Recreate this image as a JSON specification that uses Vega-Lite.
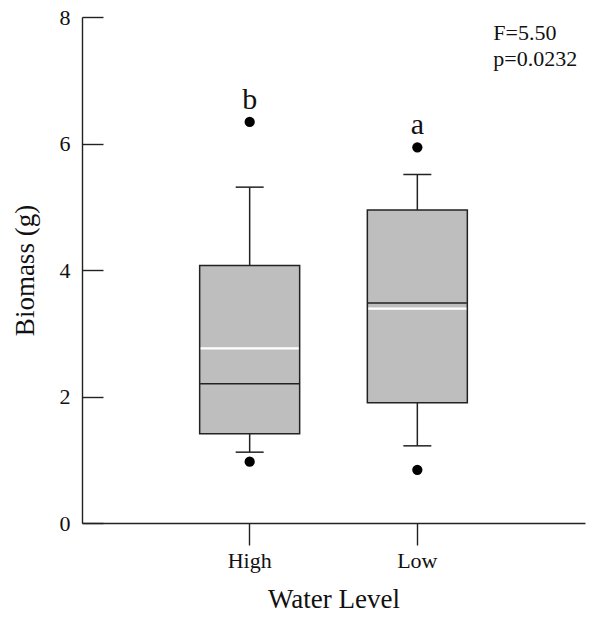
{
  "$schema": "https://vega.github.io/schema/vega-lite/v6.json",
  "width": 503,
  "height": 506,
  "autosize": {"type": "none"},
  "padding": {"left": 82, "top": 17, "right": 4, "bottom": 94},
  "background": "white",
  "config": {
    "view": {"stroke": null},
    "font": "Liberation Serif, Times New Roman, serif",
    "axis": {"grid": false, "labelFont": "Liberation Serif, Times New Roman, serif", "titleFont": "Liberation Serif, Times New Roman, serif"},
    "text": {"font": "Liberation Serif, Times New Roman, serif"}
  },
  "datasets": {
    "summary": [
      {"water": "High", "lower": 1.12, "q1": 1.41, "median": 2.20, "mean": 2.76, "q3": 4.07, "upper": 5.31, "max": 6.34, "letter": "b"},
      {"water": "Low", "lower": 1.22, "q1": 1.90, "median": 3.48, "mean": 3.39, "q3": 4.95, "upper": 5.51, "max": 5.94, "letter": "a"}
    ],
    "outliers": [
      {"water": "High", "biomass": 6.34},
      {"water": "High", "biomass": 0.97},
      {"water": "Low", "biomass": 5.94},
      {"water": "Low", "biomass": 0.84}
    ]
  },
  "encoding": {
    "x": {
      "field": "water",
      "type": "nominal",
      "scale": {"domain": ["High", "Low"], "paddingInner": 0, "paddingOuter": 0.5},
      "axis": {
        "title": "Water Level",
        "labelAngle": 0,
        "tickSize": 22,
        "labelPadding": 5,
        "labelFontSize": 22,
        "labelFont": "Liberation Serif, Times New Roman, serif",
        "titleFont": "Liberation Serif, Times New Roman, serif",
        "titleFontSize": 27,
        "titleFontWeight": "normal",
        "titlePadding": 15,
        "domainColor": "#222",
        "tickColor": "#222",
        "labelColor": "#111",
        "titleColor": "#111",
        "domainWidth": 1.4,
        "tickWidth": 1.4
      }
    }
  },
  "layer": [
    {
      "data": {"name": "summary"},
      "mark": {"type": "rule", "color": "#222", "strokeWidth": 1.5},
      "encoding": {
        "y": {
          "field": "lower",
          "type": "quantitative",
          "scale": {"domain": [0, 8], "nice": false},
          "axis": {
            "title": "Biomass (g)",
            "values": [0, 2, 4, 6, 8],
            "format": "d",
            "tickSize": -21,
            "labelPadding": 33,
            "labelFontSize": 22,
            "labelFont": "Liberation Serif, Times New Roman, serif",
            "titleFont": "Liberation Serif, Times New Roman, serif",
            "titleFontSize": 27,
            "titleFontWeight": "normal",
            "titlePadding": 20,
            "domainColor": "#222",
            "tickColor": "#222",
            "labelColor": "#111",
            "titleColor": "#111",
            "domainWidth": 1.4,
            "tickWidth": 1.4
          }
        },
        "y2": {"field": "q1"}
      }
    },
    {
      "data": {"name": "summary"},
      "mark": {"type": "rule", "color": "#222", "strokeWidth": 1.5},
      "encoding": {
        "y": {"field": "q3", "type": "quantitative", "scale": {"domain": [0, 8], "nice": false}},
        "y2": {"field": "upper"}
      }
    },
    {
      "data": {"name": "summary"},
      "mark": {"type": "tick", "color": "#222", "size": 28, "thickness": 1.5, "opacity": 1},
      "encoding": {
        "y": {"field": "lower", "type": "quantitative", "scale": {"domain": [0, 8], "nice": false}}
      }
    },
    {
      "data": {"name": "summary"},
      "mark": {"type": "tick", "color": "#222", "size": 28, "thickness": 1.5, "opacity": 1},
      "encoding": {
        "y": {"field": "upper", "type": "quantitative", "scale": {"domain": [0, 8], "nice": false}}
      }
    },
    {
      "data": {"name": "summary"},
      "mark": {"type": "bar", "size": 100, "fill": "#bebebe", "stroke": "#222", "strokeWidth": 1.5},
      "encoding": {
        "y": {"field": "q1", "type": "quantitative", "scale": {"domain": [0, 8], "nice": false}},
        "y2": {"field": "q3"}
      }
    },
    {
      "data": {"name": "summary"},
      "mark": {"type": "tick", "color": "#222", "size": 99, "thickness": 1.5, "opacity": 1},
      "encoding": {
        "y": {"field": "median", "type": "quantitative", "scale": {"domain": [0, 8], "nice": false}}
      }
    },
    {
      "data": {"name": "summary"},
      "mark": {"type": "tick", "color": "#ffffff", "size": 98, "thickness": 2.2, "opacity": 1},
      "encoding": {
        "y": {"field": "mean", "type": "quantitative", "scale": {"domain": [0, 8], "nice": false}}
      }
    },
    {
      "data": {"name": "outliers"},
      "mark": {"type": "point", "filled": true, "color": "#000", "size": 105, "opacity": 1},
      "encoding": {
        "y": {"field": "biomass", "type": "quantitative", "scale": {"domain": [0, 8], "nice": false}}
      }
    },
    {
      "data": {"name": "summary"},
      "mark": {"type": "text", "font": "Liberation Serif, Times New Roman, serif", "fontSize": 30, "baseline": "alphabetic", "align": "center", "dy": -13, "color": "#111"},
      "encoding": {
        "y": {"field": "max", "type": "quantitative", "scale": {"domain": [0, 8], "nice": false}},
        "text": {"field": "letter"}
      }
    },
    {
      "data": {"values": [{}]},
      "mark": {"type": "text", "font": "Liberation Serif, Times New Roman, serif", "text": ["F=5.50", "p=0.0232"], "fontSize": 22, "lineHeight": 26, "baseline": "alphabetic", "align": "left", "dx": 76, "color": "#111"},
      "encoding": {
        "x": {"datum": "Low"},
        "y": {"datum": 7.64, "type": "quantitative", "scale": {"domain": [0, 8], "nice": false}}
      }
    }
  ]
}
